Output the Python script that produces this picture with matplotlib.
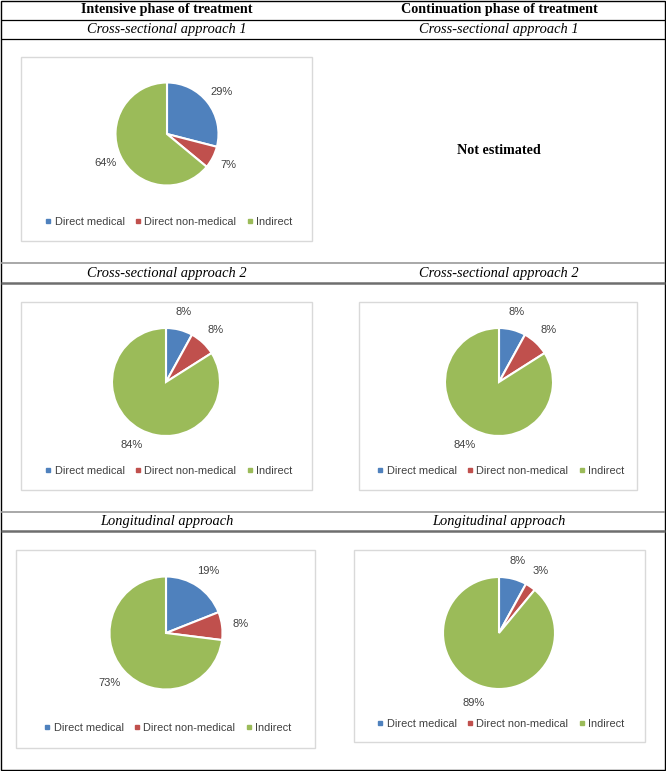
import matplotlib
matplotlib.use("Agg")
import matplotlib.pyplot as plt
from matplotlib.patches import Rectangle
from matplotlib.lines import Line2D

# data
categories = ["Direct medical", "Direct non-medical", "Indirect"]
intensive_cs1 = [29, 7, 64]
intensive_cs2 = [8, 8, 84]
continuation_cs2 = [8, 8, 84]
intensive_long = [19, 8, 73]
continuation_long = [8, 3, 89]

col_titles = ["Intensive phase of treatment", "Continuation phase of treatment"]
row_titles = ["Cross-sectional approach 1", "Cross-sectional approach 2",
              "Longitudinal approach"]

colors = ["#4F81BD", "#C0504D", "#9BBB59"]
text_grey = "#404040"

W, H = 666, 771
fig = plt.figure(figsize=(W / 100, H / 100), dpi=100)
fig.patch.set_facecolor("white")

# table frame drawn in pixel coordinates
tab = fig.add_axes([0, 0, 1, 1])
tab.set_xlim(0, W)
tab.set_ylim(H, 0)
tab.axis("off")

serif = "Liberation Serif"
sans = "Liberation Sans"

def hline(y, color="black", lw=0.9):
    tab.plot([1, W - 1], [y, y], color=color, lw=lw, solid_capstyle="butt")

# outer border
tab.add_patch(Rectangle((1, 0.8), W - 2.2, H - 1.8, fill=False,
                        edgecolor="black", lw=1.0))
hline(19.5)
hline(38.5)
hline(263, color="#9A9A9A", lw=1.2)
hline(283, color="#6E6E6E", lw=1.8)
hline(512, color="#9A9A9A", lw=1.2)
hline(531, color="#6E6E6E", lw=1.8)

col_x = [167, 499]
for x, t in zip(col_x, col_titles):
    tab.text(x, 10, t, ha="center", va="center", fontsize=10.2,
             fontweight="bold", family=serif)

title_y = [29, 273, 521]
for y, t in zip(title_y, row_titles):
    for x in col_x:
        tab.text(x, y, t, ha="center", va="center", fontsize=10.4,
                 style="italic", family=serif)

tab.text(499, 151, "Not estimated", ha="center", va="center", fontsize=10.2,
         fontweight="bold", family=serif)

handles = [Line2D([], [], marker="s", linestyle="none", markersize=3.5,
                  markerfacecolor=c, markeredgecolor=c) for c in colors]

def pie_panel(values, box, center, r, legend_xy):
    # chart box
    bx0, by0, bx1, by1 = box
    tab.add_patch(Rectangle((bx0, by0), bx1 - bx0, by1 - by0, fill=False,
                            edgecolor="#D9D9D9", lw=1.0))
    cx, cy = center
    ax = fig.add_axes([(cx - r) / W, 1 - (cy + r) / H, 2 * r / W, 2 * r / H])
    ax.pie(values, colors=colors, startangle=90, counterclock=False,
           autopct=lambda p: f"{p:.0f}%", pctdistance=1.33,
           wedgeprops=dict(edgecolor="white", linewidth=1.5),
           textprops=dict(fontsize=8, color=text_grey, family=sans))
    ax.set_xlim(-1, 1)
    ax.set_ylim(-1, 1)
    ax.set_aspect("equal")
    ax.axis("off")
    lx, ly = legend_xy
    fig.legend(handles, categories, loc="center",
               bbox_to_anchor=(lx / W, 1 - ly / H), ncol=3, frameon=False,
               handlelength=0.5, handletextpad=0.3,
               columnspacing=1.0, labelcolor=text_grey,
               prop=dict(family=sans, size=7.9))

pie_panel(intensive_cs1, (21, 57, 312, 241), (167, 134), 51.5, (169, 222))
pie_panel(intensive_cs2, (21, 302, 312, 490), (166, 382), 54, (169, 471))
pie_panel(continuation_cs2, (359, 302, 637, 490), (499, 382), 54, (501, 471))
pie_panel(intensive_long, (16, 550, 315, 748), (166, 633), 56.5, (168, 728))
pie_panel(continuation_long, (354, 550, 645, 742), (499, 633), 56, (501, 724))

fig.savefig("out.png", dpi=100, facecolor="white")
